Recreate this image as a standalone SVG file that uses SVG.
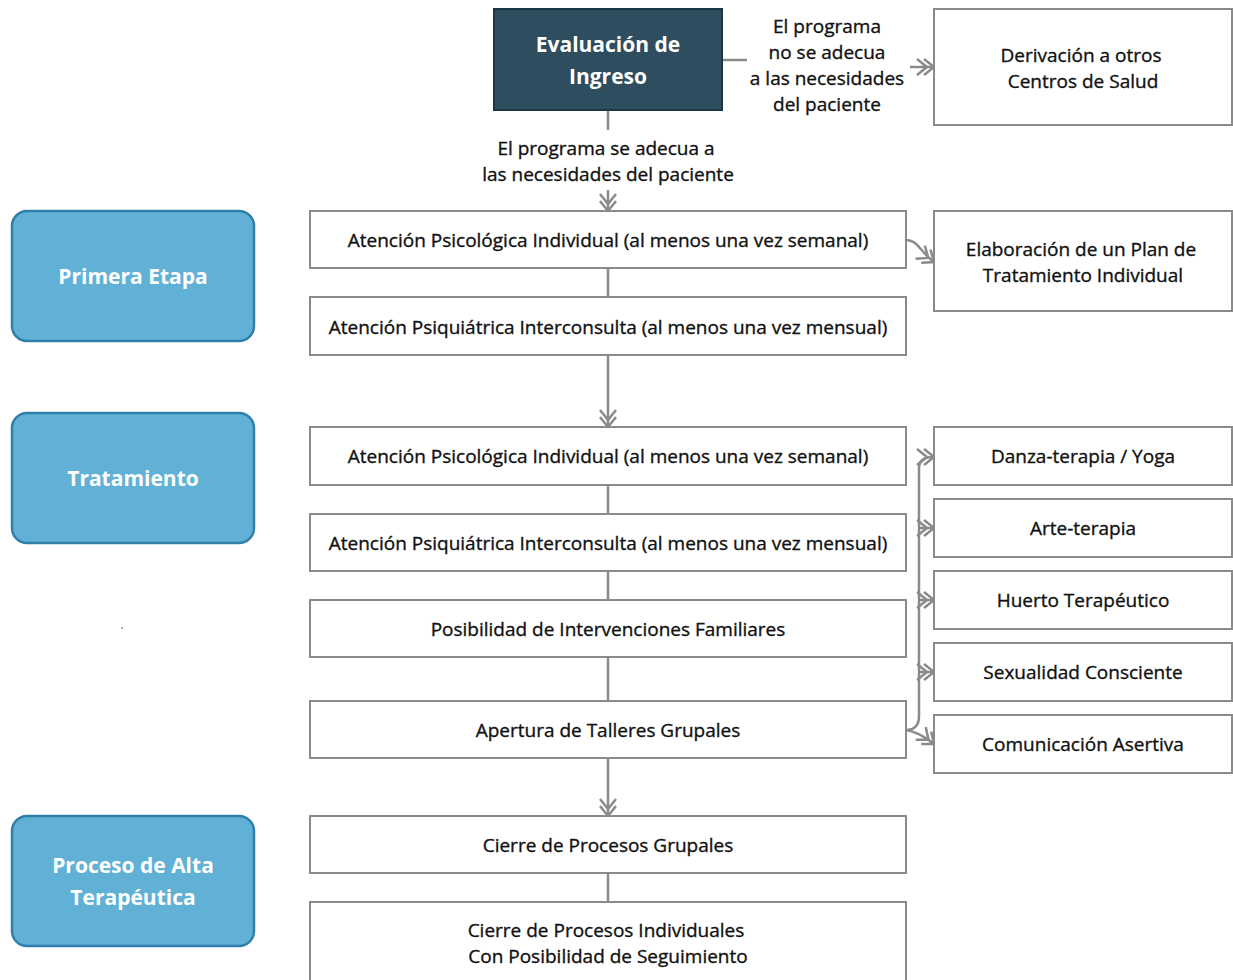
<svg xmlns="http://www.w3.org/2000/svg" width="1233" height="980" viewBox="0 0 1233 980">
<style>
.box{fill:#ffffff;stroke:#8a8a8a;stroke-width:2}
.stage{fill:#61b1d6;stroke:#2f7fab;stroke-width:2.5}
.dark{fill:#2e4d5e;stroke:#1d3644;stroke-width:2}
.t{font-family:"Open Sans","Noto Sans","DejaVu Sans",sans-serif;font-size:19px;fill:#111111;stroke:#111111;stroke-width:0.35;text-anchor:middle}
.st{font-family:"Open Sans","Noto Sans","DejaVu Sans",sans-serif;font-size:21px;font-weight:bold;fill:#ffffff;text-anchor:middle}
.ln{fill:none;stroke:#8a8a8a;stroke-width:2.5}
</style>
<defs>
<marker id="arr" markerUnits="userSpaceOnUse" viewBox="-12 -10 24 20" refX="10" refY="0" markerWidth="24" markerHeight="20" orient="auto" overflow="visible">
<path d="M0,-8 L10,0 L0,8 M-7,-8 L3,0 L-7,8" fill="none" stroke="#8a8a8a" stroke-width="2.5"/>
</marker>
</defs>
<rect x="0" y="0" width="1233" height="980" fill="#ffffff"/>

<g id="connectors">
<path class="ln" d="M722,60 L747,60"/>
<path class="ln" d="M910,67 L934,67" marker-end="url(#arr)"/>
<path class="ln" d="M608,110 L608,130"/>
<path class="ln" d="M608,190 L608,211" marker-end="url(#arr)"/>
<path class="ln" d="M608,268 L608,297"/>
<path class="ln" d="M906,240 C918,240 920,252 934,262" marker-end="url(#arr)"/>
<path class="ln" d="M608,355 L608,427" marker-end="url(#arr)"/>
<path class="ln" d="M608,485 L608,514"/>
<path class="ln" d="M608,571 L608,600"/>
<path class="ln" d="M608,657 L608,701"/>
<path class="ln" d="M608,758 L608,816" marker-end="url(#arr)"/>
<path class="ln" d="M608,873 L608,902"/>
<path class="ln" d="M906,730 Q919,730 919,716 L919,468 Q919,457 934,457" marker-end="url(#arr)"/>
<path class="ln" d="M919,528 L934,528" marker-end="url(#arr)"/>
<path class="ln" d="M919,600 L934,600" marker-end="url(#arr)"/>
<path class="ln" d="M919,672 L934,672" marker-end="url(#arr)"/>
<path class="ln" d="M906,730 Q919,732 934,744" marker-end="url(#arr)"/>
<text class="t" x="827" y="33">El programa</text>
<text class="t" x="827" y="59">no se adecua</text>
<text class="t" x="827" y="85">a las necesidades</text>
<text class="t" x="827" y="111">del paciente</text>
<text class="t" x="606" y="155">El programa se adecua a</text>
<text class="t" x="608" y="181">las necesidades del paciente</text>
</g>

<g id="evaluacion">
<rect class="dark" x="494" y="9" width="228" height="101"/>
<text class="st" x="608" y="52">Evaluación de</text>
<text class="st" x="608" y="84">Ingreso</text>
</g>
<g id="derivacion">
<rect class="box" x="934" y="9" width="298" height="116"/>
<text class="t" x="1081" y="62">Derivación a otros</text>
<text class="t" x="1083" y="88">Centros de Salud</text>
</g>

<g id="stage1">
<rect class="stage" x="12" y="211" width="242" height="130" rx="15"/>
<text class="st" x="133" y="284">Primera Etapa</text>
</g>
<g id="stage2">
<rect class="stage" x="12" y="413" width="242" height="130" rx="15"/>
<text class="st" x="133" y="486">Tratamiento</text>
</g>
<g id="stage3">
<rect class="stage" x="12" y="816" width="242" height="130" rx="15"/>
<text class="st" x="133" y="873">Proceso de Alta</text>
<text class="st" x="133" y="905">Terapéutica</text>
</g>
<circle cx="122" cy="628" r="1" fill="#999999"/>

<g id="n1">
<rect class="box" x="310" y="211" width="596" height="57"/>
<text class="t" x="608" y="247">Atención Psicológica Individual (al menos una vez semanal)</text>
</g>
<g id="n2">
<rect class="box" x="310" y="297" width="596" height="58"/>
<text class="t" x="608" y="334">Atención Psiquiátrica Interconsulta (al menos una vez mensual)</text>
</g>
<g id="plan">
<rect class="box" x="934" y="211" width="298" height="100"/>
<text class="t" x="1081" y="256">Elaboración de un Plan de</text>
<text class="t" x="1083" y="282">Tratamiento Individual</text>
</g>
<g id="n3">
<rect class="box" x="310" y="427" width="596" height="58"/>
<text class="t" x="608" y="463">Atención Psicológica Individual (al menos una vez semanal)</text>
</g>
<g id="n4">
<rect class="box" x="310" y="514" width="596" height="57"/>
<text class="t" x="608" y="550">Atención Psiquiátrica Interconsulta (al menos una vez mensual)</text>
</g>
<g id="n5">
<rect class="box" x="310" y="600" width="596" height="57"/>
<text class="t" x="608" y="636">Posibilidad de Intervenciones Familiares</text>
</g>
<g id="n6">
<rect class="box" x="310" y="701" width="596" height="57"/>
<text class="t" x="608" y="737">Apertura de Talleres Grupales</text>
</g>
<g id="w1">
<rect class="box" x="934" y="427" width="298" height="58"/>
<text class="t" x="1083" y="463">Danza-terapia / Yoga</text>
</g>
<g id="w2">
<rect class="box" x="934" y="499" width="298" height="58"/>
<text class="t" x="1083" y="535">Arte-terapia</text>
</g>
<g id="w3">
<rect class="box" x="934" y="571" width="298" height="58"/>
<text class="t" x="1083" y="607">Huerto Terapéutico</text>
</g>
<g id="w4">
<rect class="box" x="934" y="643" width="298" height="58"/>
<text class="t" x="1083" y="679">Sexualidad Consciente</text>
</g>
<g id="w5">
<rect class="box" x="934" y="715" width="298" height="58"/>
<text class="t" x="1083" y="751">Comunicación Asertiva</text>
</g>
<g id="n7">
<rect class="box" x="310" y="816" width="596" height="57"/>
<text class="t" x="608" y="852">Cierre de Procesos Grupales</text>
</g>
<g id="n8">
<rect class="box" x="310" y="902" width="596" height="90"/>
<text class="t" x="606" y="937">Cierre de Procesos Individuales</text>
<text class="t" x="608" y="963">Con Posibilidad de Seguimiento</text>
</g>
</svg>
